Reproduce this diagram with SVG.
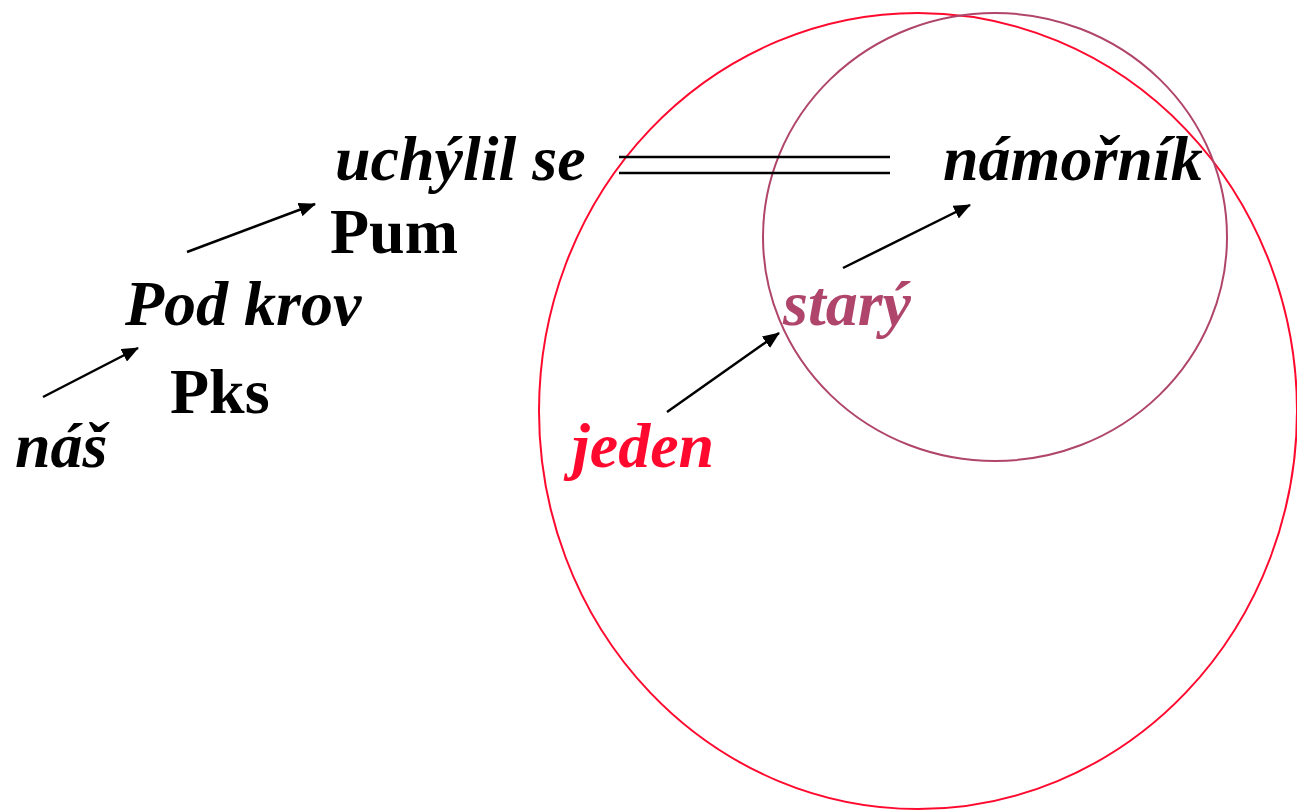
<svg xmlns="http://www.w3.org/2000/svg" width="1297" height="812" viewBox="0 0 1297 812">
<defs>
<style>
.t{font-family:"Liberation Serif","Times New Roman",serif;font-weight:bold;font-size:64px;}
.i{font-style:italic;}
.c{stroke:#000;stroke-width:2.5;fill:none;}
</style>
<marker id="ah" markerUnits="userSpaceOnUse" markerWidth="18" markerHeight="14" refX="16" refY="7" orient="auto">
<path d="M0,0 L17,7 L0,14 Z" fill="#000"/>
</marker>
</defs>
<rect width="1297" height="812" fill="#fff"/>
<g id="circles">
<ellipse id="red-circle" cx="918" cy="411" rx="379" ry="398" fill="none" stroke="#FF0A2E" stroke-width="2"/>
<ellipse id="purple-circle" cx="995" cy="237" rx="232" ry="224" fill="none" stroke="#B0456B" stroke-width="2"/>
</g>
<g id="connectors">
<line class="c" x1="43" y1="397" x2="138" y2="348" marker-end="url(#ah)"/>
<line class="c" x1="187" y1="252" x2="315" y2="204" marker-end="url(#ah)"/>
<line class="c" x1="667" y1="412" x2="779" y2="333" marker-end="url(#ah)"/>
<line class="c" x1="843" y1="268" x2="970" y2="205" marker-end="url(#ah)"/>
<line class="c" x1="619" y1="157" x2="890" y2="157"/>
<line class="c" x1="619" y1="173" x2="890" y2="173"/>
</g>
<g id="n-uchylil"><text class="t i" x="335" y="180">uchýlil se</text></g>
<g id="n-namornik"><text class="t i" x="943" y="180">námořník</text></g>
<g id="n-pum"><text class="t" x="330" y="253">Pum</text></g>
<g id="n-podkrov"><text class="t i" x="125" y="325">Pod krov</text></g>
<g id="n-pks"><text class="t" x="170" y="413">Pks</text></g>
<g id="n-nas"><text class="t i" x="15" y="467">náš</text></g>
<g id="n-stary"><text class="t i" x="783" y="325" fill="#B0456B">starý</text></g>
<g id="n-jeden"><text class="t i" x="572" y="467" fill="#FF0A2E">jeden</text></g>
</svg>
